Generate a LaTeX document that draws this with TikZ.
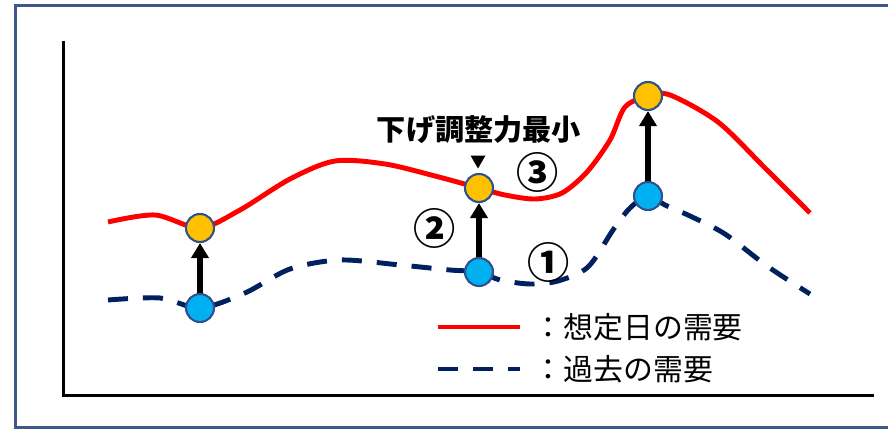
\documentclass[tikz,border=0pt]{standalone}
\usepackage{fontspec}
\newfontfamily\jpfont{Noto Sans CJK JP}
\usepackage{tikz}
\usetikzlibrary{arrows,arrows.meta,shapes,shapes.geometric}
\usepackage{xcolor}
\definecolor{dmred}{RGB}{255,0,0}
\definecolor{dmnavy}{RGB}{0,32,96}
\definecolor{dmframe}{RGB}{62,88,140}
\definecolor{dmorange}{RGB}{255,192,0}
\definecolor{dmcyan}{RGB}{0,176,240}
\definecolor{dmedge}{RGB}{47,82,143}
\tikzstyle{plancurve} = [line width=1.4pt,color=dmred]
\tikzstyle{pastcurve} = [line width=1.4pt,color=dmnavy,dash pattern=on 0.2cm off 0.15cm]
\tikzstyle{plannode} = [circle,draw=dmedge,line width=0.6pt,fill=dmorange,minimum size=0.28cm,inner sep=0pt]
\tikzstyle{pastnode} = [circle,draw=dmedge,line width=0.6pt,fill=dmcyan,minimum size=0.28cm,inner sep=0pt]
\tikzstyle{uparrow} = [line width=1.6pt,-{Triangle[length=0.15cm,width=0.17cm]},color=black]
\tikzstyle{numlabel} = [font=\jpfont\bfseries\fontsize{12}{14}\selectfont,inner sep=0pt]
\tikzstyle{legendtext} = [font=\jpfont\fontsize{8.5}{10}\selectfont,anchor=west,inner sep=0pt]

\begin{document}
\begin{tikzpicture}
\useasboundingbox (0,0) rectangle (8.88,4.30);
% Frame
\draw[dmframe, line width=0.03cm] (0.155,0.025) rectangle (9.2,4.245);

% Axes
\draw[line width=0.03cm] (0.64,3.89) -- (0.64,0.34) -- (8.74,0.34);

% Demand on the planned day
\draw[plancurve] plot[smooth] coordinates {(1.08,2.08) (1.55,2.15) (2.00,2.02) (2.40,2.20) (2.90,2.51) (3.35,2.69) (3.85,2.66) (4.35,2.54) (4.79,2.42) (5.05,2.35) (5.35,2.31) (5.62,2.37) (5.87,2.58) (6.10,2.90) (6.25,3.23) (6.48,3.34) (6.70,3.35) (7.18,3.08) (7.65,2.62) (8.10,2.17)};

% Past demand
\draw[pastcurve] plot[smooth] coordinates {(1.08,1.30) (1.60,1.32) (2.00,1.22) (2.45,1.37) (2.90,1.61) (3.40,1.70) (4.00,1.65) (4.50,1.60) (4.79,1.58) (5.00,1.50) (5.30,1.46) (5.58,1.49) (5.88,1.63) (6.13,2.00) (6.30,2.22) (6.48,2.34) (6.65,2.25) (6.90,2.14) (7.25,1.96) (7.67,1.64) (8.10,1.36)};

% Points
\node[plannode] (plan1) at (2.00,2.02) {};
\node[plannode] (plan2) at (4.79,2.42) {};
\node[plannode] (plan3) at (6.48,3.34) {};
\node[pastnode] (past1) at (2.00,1.22) {};
\node[pastnode] (past2) at (4.79,1.58) {};
\node[pastnode] (past3) at (6.48,2.34) {};

% Adjustment arrows
\draw[uparrow] (past1) -- (plan1);
\draw[uparrow] (past2) -- (plan2);
\draw[uparrow] (past3) -- (plan3);

% Labels
\node[font=\jpfont\bfseries\fontsize{8.3}{10}\selectfont, inner sep=0pt] (minlabel) at (4.79,3.00) {下げ調整力最小};
\node[regular polygon, regular polygon sides=3, shape border rotate=180, fill=black, minimum size=0.17cm, inner sep=0pt] (minmark) at (4.78,2.70) {};
\node[numlabel] (num1) at (5.49,1.68) {①};
\node[numlabel] (num2) at (4.35,2.02) {②};
\node[numlabel] (num3) at (5.38,2.58) {③};

% Legend
\draw[plancurve] (4.38,1.03) -- (5.20,1.03);
\draw[pastcurve] (4.38,0.61) -- (5.20,0.61);
\node[legendtext] (plantext) at (5.33,1.03) {：想定日の需要};
\node[legendtext] (pasttext) at (5.33,0.61) {：過去の需要};
\end{tikzpicture}
\end{document}
